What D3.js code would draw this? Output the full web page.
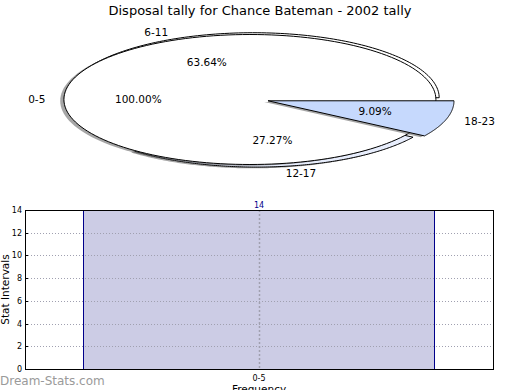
<!DOCTYPE html>
<html><head><meta charset="utf-8">
<script src="https://cdn.jsdelivr.net/npm/d3@7/dist/d3.min.js"></script>
<style>body{margin:0;background:#fff}svg{display:block;font-family:"DejaVu Sans",sans-serif}</style>
</head><body><svg id="c" width="520" height="390"></svg>
<script>
// ---- data ----
const title = "Disposal tally for Chance Bateman - 2002 tally";
const pieLabels = ["0-5", "6-11", "12-17", "18-23"];
const pieFractions = [1.0, 0.6364, 0.2727, 0.0909];   // not normalised (as in reference)
const pieExplode = [0.03, 0.03, 0.04, 0.07];
const pieColors = ["#ffffff", "#ffffff", "#e8eefd", "#c6d9fd"];
const barCategories = ["0-5"];
const barValues = [14];
const yTicks = [0, 2, 4, 6, 8, 10, 12, 14];

const svg = d3.select("#c");
svg.append("text").attr("x", 260).attr("y", 15).attr("text-anchor", "middle")
  .attr("font-size", 13).attr("fill", "#000").text(title);

// ---- pie (elliptical, matplotlib-like) ----
const cx = 255.5, cy = 99.5, rx = 186, ry = 65;
const sx = d3.scaleLinear().domain([-1, 1]).range([cx - rx, cx + rx]);
const sy = d3.scaleLinear().domain([-1, 1]).range([cy + ry, cy - ry]);
let acc = 0;
const wedges = pieFractions.map((f, i) => {
  const t1 = acc * 360, t2 = (acc + f) * 360; acc += f;
  return {i, t1, t2, mid: (t1 + t2) / 2, label: pieLabels[i], f};
});
const rad = d => d * Math.PI / 180;
function wedgePath(w, ox, oy) {
  const ex = pieExplode[w.i] * Math.cos(rad(w.mid)), ey = pieExplode[w.i] * Math.sin(rad(w.mid));
  const c = [ex + ox, ey + oy];
  const n = 160, pts = [];
  const full = (w.t2 - w.t1) >= 359.99;
  if (!full) pts.push([sx(c[0]), sy(c[1])]);
  for (let k = 0; k <= n; k++) {
    const t = rad(w.t1 + (w.t2 - w.t1) * k / n);
    pts.push([sx(c[0] + Math.cos(t)), sy(c[1] + Math.sin(t))]);
  }
  return d3.line()(pts) + "Z";
}
// draw order: 6-11, 12-17, then 0-5 on top, then 18-23
const order = [1, 2, 0, 3];
const pg = svg.append("g");
order.forEach(i => {
  const w = wedges[i];
  pg.append("path").attr("d", wedgePath(w, -0.02, -0.02))
    .attr("fill", "#4d4d4d").attr("fill-opacity", 0.5).attr("stroke", "none");
  pg.append("path").attr("d", wedgePath(w, 0, 0))
    .attr("fill", pieColors[i]).attr("stroke", "#000").attr("stroke-width", 1)
    .attr("stroke-linejoin", "round");
});
wedges.forEach(w => {
  const ex = pieExplode[w.i] * Math.cos(rad(w.mid)), ey = pieExplode[w.i] * Math.sin(rad(w.mid));
  const lx = ex + 1.1 * Math.cos(rad(w.mid)), ly = ey + 1.1 * Math.sin(rad(w.mid));
  pg.append("text").attr("x", sx(lx)).attr("y", sy(ly)).attr("dy", "0.35em")
    .attr("text-anchor", lx >= 0 ? "start" : "end").attr("font-size", 10.5).text(w.label);
  const px = ex + 0.6 * Math.cos(rad(w.mid)), py = ey + 0.6 * Math.sin(rad(w.mid));
  pg.append("text").attr("x", sx(px)).attr("y", sy(py)).attr("dy", "0.35em")
    .attr("text-anchor", "middle").attr("font-size", 10.5).text((w.f * 100).toFixed(2) + "%");
});

// ---- bar chart ----
const L = 25, R = 493, T = 210, B = 369;
const x = d3.scaleLinear().domain([0, 1]).range([L, R]);
const y = d3.scaleLinear().domain([0, 14]).range([B, T]);
const bg = svg.append("g");
const bw = 0.75;
barValues.forEach((v, i) => {
  const xc = (i + 0.5) / barValues.length;
  bg.append("rect").attr("x", Math.floor(x(xc - bw / 2)) + 0.5).attr("y", y(v) + 0.5)
    .attr("width", Math.round(x(xc + bw / 2) - x(xc - bw / 2))).attr("height", y(0) - y(v))
    .attr("fill", "#ccccE5").attr("stroke", "#00008b").attr("stroke-width", 1);
  bg.append("text").attr("x", x(xc)).attr("y", y(v) - 2).attr("text-anchor", "middle")
    .attr("font-size", 8).attr("fill", "#00008b").text(v);
});
bg.selectAll(".hg2").data(yTicks.slice(1, -1)).join("line")
  .attr("x1", L).attr("x2", R).attr("y1", d => Math.round(y(d)) + 0.5).attr("y2", d => Math.round(y(d)) + 0.5)
  .attr("stroke", "#a0a0b0").attr("stroke-dasharray", "1,2");
barCategories.forEach((c, i) => {
  const xc = (i + 0.5) / barCategories.length;
  bg.append("line").attr("x1", Math.round(x(xc)) + 0.5).attr("x2", Math.round(x(xc)) + 0.5)
    .attr("y1", T).attr("y2", B).attr("stroke", "#a0a0b0").attr("stroke-width", 1.5).attr("stroke-dasharray", "2,2");
});
bg.append("rect").attr("x", L + 0.5).attr("y", T + 0.5).attr("width", R - L).attr("height", B - T)
  .attr("fill", "none").attr("stroke", "#000");
// y axis
const ya = d3.axisLeft(y).tickValues(yTicks).tickSize(0).tickPadding(3);
bg.append("g").attr("transform", `translate(${L},0)`).call(ya)
  .call(g => g.select(".domain").remove())
  .call(g => g.selectAll("text").attr("font-size", 8).attr("font-family", "DejaVu Sans").attr("fill", "#000"));
bg.selectAll(".yt").data(yTicks).join("line")
  .attr("x1", L).attr("x2", L + 3).attr("y1", d => Math.round(y(d)) + 0.5).attr("y2", d => Math.round(y(d)) + 0.5).attr("stroke", "#000");
// x axis
const xs = d3.scaleOrdinal().domain(barCategories).range(barCategories.map((c, i) => x((i + 0.5) / barCategories.length)));
barCategories.forEach(c => {
  bg.append("text").attr("x", xs(c)).attr("y", B + 12).attr("text-anchor", "middle")
    .attr("font-size", 8).text(c);
});
bg.append("text").attr("x", 259).attr("y", 393).attr("text-anchor", "middle").attr("font-size", 10.5).text("Frequency");
bg.append("text").attr("transform", `translate(9,${(T + B) / 2}) rotate(-90)`).attr("text-anchor", "middle")
  .attr("font-size", 10.5).text("Stat Intervals");
svg.append("text").attr("x", 0).attr("y", 385).attr("font-size", 12)
  .attr("fill", "#9a9a9a").text("Dream-Stats.com");
</script></body></html>
